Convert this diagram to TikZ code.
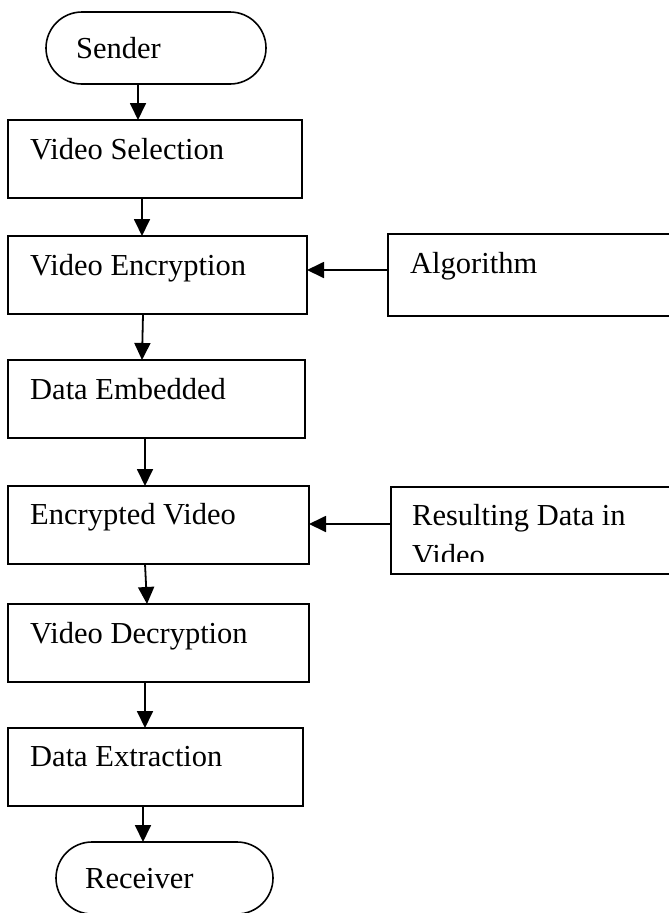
\documentclass[tikz,border=0pt]{standalone}
\usepackage{fontspec}
\setmainfont{Liberation Serif}
\usetikzlibrary{arrows.meta,calc}
\begin{document}
\begin{tikzpicture}[x=1pt,y=-1pt,
  box/.style={draw,line width=1.6pt,rectangle,inner sep=0pt,outer sep=0pt},
  term/.style={draw,line width=1.6pt,rectangle,rounded corners=36pt,inner sep=0pt,outer sep=0pt,minimum height=72pt},
  txt/.style={anchor=base west,inner sep=0pt,font=\fontsize{30.5}{36}\selectfont},
  arr/.style={line width=1.8pt,-{Triangle[length=17pt,width=16pt]}}]
\useasboundingbox (0,0) rectangle (669,913);
\clip (0,0) rectangle (669,913);
% boxes
\node[term,minimum width=220pt] (sender) at (156,48) {};
\node[box,minimum width=294pt,minimum height=78pt] (vs) at (155,159) {};
\node[box,minimum width=299pt,minimum height=78pt] (ve) at (157.5,275) {};
\node[box,minimum width=312pt,minimum height=82pt] (alg) at (544,275) {};
\node[box,minimum width=297pt,minimum height=78pt] (de) at (156.5,399) {};
\node[box,minimum width=301pt,minimum height=78pt] (ev) at (158.5,525) {};
\node[box,minimum width=309pt,minimum height=87pt] (rd) at (545.5,530.5) {};
\node[box,minimum width=301pt,minimum height=78pt] (vd) at (158.5,643) {};
\node[box,minimum width=295pt,minimum height=78pt] (dx) at (155.5,767) {};
\node[term,minimum width=217pt] (recv) at (164.5,878) {};
% texts
\node[txt] (tsender) at (76,58) {Sender};
\node[txt] (tvs) at (30,159) {Video Selection};
\node[txt] (tve) at (30,275) {Video Encryption};
\node[txt] (talg) at (410,273) {Algorithm};
\node[txt] (tde) at (30,399) {Data Embedded};
\node[txt] (tev) at (30,524) {Encrypted Video};
\node[txt] (trd) at (412,525) {Resulting Data in};
\begin{scope}
\clip (391,487) rectangle (700,561.5);
\node[txt] (trd2) at (412,565) {Video};
\end{scope}
\node[txt] (tvd) at (30,643) {Video Decryption};
\node[txt] (tdx) at (30,766) {Data Extraction};
\node[txt] (trecv) at (85,888) {Receiver};
% arrows
\draw[arr] ($(sender.south)+(-18,0)$) -- ($(vs.north)+(-17,0)$);
\draw[arr] ($(vs.south)+(-13,0)$) -- ($(ve.north)+(-15.5,0)$);
\draw[arr] ($(ve.south)+(-14.5,0)$) -- ($(de.north)+(-14.5,0)$);
\draw[arr] ($(de.south)+(-11.5,0)$) -- ($(ev.north)+(-13.5,0)$);
\draw[arr] ($(ev.south)+(-13.5,0)$) -- ($(vd.north)+(-11.5,0)$);
\draw[arr] ($(vd.south)+(-13.5,0)$) -- ($(dx.north)+(-10.5,0)$);
\draw[arr] ($(dx.south)+(-12.5,0)$) -- ($(recv.north)+(-21.5,0)$);
\draw[arr] ($(alg.west)+(0,-5)$) -- ($(ve.east)+(0,-5)$);
\draw[arr] ($(rd.west)+(0,-6.5)$) -- ($(ev.east)+(0,-1)$);
\end{tikzpicture}
\end{document}
